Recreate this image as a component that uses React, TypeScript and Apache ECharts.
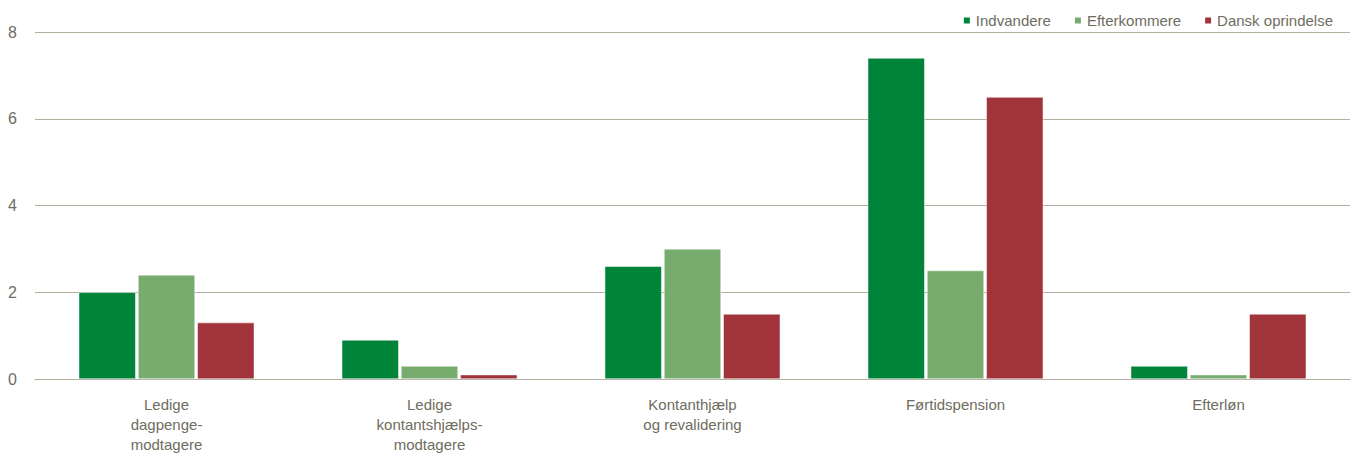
import React, { useEffect, useRef } from "react";
import * as echarts from "echarts";

const categories = [
  "Ledige\ndagpenge-\nmodtagere",
  "Ledige\nkontantshjælps-\nmodtagere",
  "Kontanthjælp\nog revalidering",
  "Førtidspension",
  "Efterløn",
];
const seriesNames = ["Indvandere", "Efterkommere", "Dansk oprindelse"];
const indvandere = [2.0, 0.9, 2.6, 7.4, 0.3];
const efterkommere = [2.4, 0.3, 3.0, 2.5, 0.1];
const danskOprindelse = [1.3, 0.1, 1.5, 6.5, 1.5];
const colors = ["#00843A", "#78AB6E", "#A0343A"];

const FONT = "'Liberation Sans', Arial, sans-serif";

export default function App() {
  const ref = useRef<HTMLDivElement>(null);
  useEffect(() => {
    document.body.style.margin = "0";
    const chart = echarts.init(ref.current!, null, { renderer: "svg" });
    const data = [indvandere, efterkommere, danskOprindelse];
    chart.setOption({
      animation: false,
      textStyle: { fontFamily: FONT },
      legend: {
        top: 8,
        right: 14,
        itemWidth: 8,
        itemHeight: 8,
        itemGap: 22,
        icon: "rect",
        textStyle: { fontSize: 15, color: "#6E6D5E", fontFamily: FONT },
        data: seriesNames,
      },
      grid: { left: 35, right: 2, top: 32, bottom: 73, containLabel: false },
      xAxis: {
        type: "category",
        data: categories,
        axisLine: { show: true, lineStyle: { color: "#B3AE9E", width: 1 } },
        axisTick: { show: false },
        axisLabel: {
          interval: 0,
          fontSize: 15,
          lineHeight: 20,
          color: "#6E6D5E",
          margin: 15,
          fontFamily: FONT,
        },
      },
      yAxis: {
        type: "value",
        min: 0,
        max: 8,
        interval: 2,
        axisLine: { show: false },
        axisTick: { show: false },
        axisLabel: { fontSize: 16, color: "#6E6D5E", margin: 18, fontFamily: FONT },
        splitLine: { lineStyle: { color: "#B3AE9E", width: 1 } },
      },
      series: seriesNames.map((name, i) => ({
        name,
        type: "bar",
        data: data[i],
        barWidth: 57,
        barGap: "4%",
        itemStyle: { color: colors[i], borderColor: "#FFFFFF", borderWidth: 0.5 },
      })),
    });
    return () => chart.dispose();
  }, []);
  return <div ref={ref} style={{ width: 1352, height: 454 }} />;
}
